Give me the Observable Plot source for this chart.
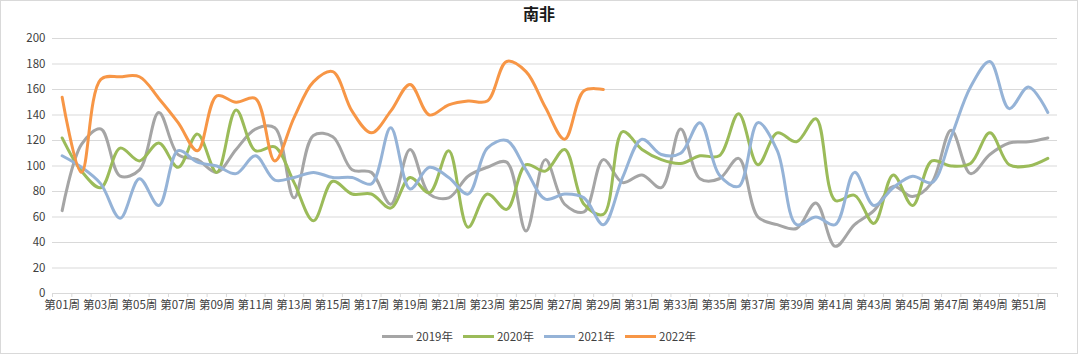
<!DOCTYPE html>
<html>
<head>
<meta charset="utf-8">
<script src="https://cdn.jsdelivr.net/npm/d3@7"></script>
<script src="https://cdn.jsdelivr.net/npm/@observablehq/plot@0.6"></script>
<style>
  html, body { margin: 0; padding: 0; background: #fff; }
  #frame { position: relative; width: 1076px; height: 352px; border: 1px solid #d9d9d9; background: #fff; overflow: hidden; }
  #title { height: 29px; line-height: 38px; text-align: center; font: bold 16px "Noto Sans CJK SC", "Noto Sans", sans-serif; color: #1a1a1a; }
  #chart svg { display: block; }
  #legend { display: flex; justify-content: center; align-items: center; gap: 0; height: 34px; margin-top: -2px; font: 11.5px "Noto Sans CJK SC", "Noto Sans", sans-serif; color: #404040; padding-left: 0px; }
  .item { display: flex; align-items: center; margin: 0 5px; }
  .sw { width: 31px; height: 3px; margin-right: 3px; }
</style>
</head>
<body>
<div id="frame">
  <div id="title">南非</div>
  <div id="chart"></div>
  <div id="legend"></div>
</div>
<script>
const weeks = d3.range(1, 53);
const weekLabels = weeks.map(w => "第" + String(w).padStart(2, "0") + "周");
const years = ["2019年", "2020年", "2021年", "2022年"];
const colors = ["#A5A5A5", "#9BBB59", "#95B3D7", "#F79646"];
const yTicks = [0, 20, 40, 60, 80, 100, 120, 140, 160, 180, 200];

const s2019 = [65, 117, 129, 92, 97, 142, 109, 105, 95, 113, 129, 130, 75, 124, 123, 97, 95, 70, 113, 78, 75, 92, 99, 103, 49, 105, 70, 64, 105, 87, 93, 83, 129, 90, 90, 106, 60, 54, 51, 71, 37, 54, 65, 84, 76, 87, 128, 94, 109, 118, 119, 122];
const s2020 = [122, 96, 83, 114, 104, 118, 99, 125, 95, 144, 112, 115, 87, 57, 88, 78, 78, 67, 91, 79, 112, 52, 78, 66, 101, 96, 113, 70, 62, 127, 113, 105, 102, 108, 108, 141, 101, 126, 119, 137, 73, 77, 55, 93, 69, 104, 100, 102, 126, 101, 100, 106];
const s2021 = [108, 99, 86, 59, 90, 69, 112, 103, 100, 94, 108, 89, 91, 95, 91, 91, 86, 130, 82, 99, 91, 78, 114, 120, 97, 74, 78, 75, 54, 91, 121, 109, 110, 134, 93, 84, 134, 112, 54, 60, 54, 95, 69, 83, 92, 87, 123, 162, 182, 145, 162, 142];
const s2022 = [154, 95, 168, 170, 170, 153, 134, 112, 155, 150, 153, 104, 138, 166, 174, 143, 126, 143, 164, 140, 148, 151, 151, 182, 174, 146, 121, 159, 160];

const series = [s2019, s2020, s2021, s2022];
const data = series.flatMap((vals, i) => vals.map((v, j) => ({ year: years[i], week: weeks[j], value: v })));
const boundaries = weeks.map(w => w - 0.5).concat([weeks[weeks.length - 1] + 0.5]);
const oddWeeks = weeks.filter(w => w % 2 === 1);

const chart = Plot.plot({
  width: 1076,
  height: 291,
  marginTop: 8,
  marginBottom: 28,
  marginLeft: 51,
  marginRight: 20,
  style: { fontFamily: '"Noto Sans CJK SC", "Noto Sans", sans-serif', background: "#fff" },
  x: { domain: [0.5, 52.5], axis: null, label: null },
  y: { domain: [0, 200], axis: null, label: null },
  color: { domain: years, range: colors },
  marks: [
    Plot.gridY(yTicks, { stroke: "#d9d9d9", strokeOpacity: 1, strokeWidth: 1 }),
    Plot.axisY(yTicks, { tickSize: 0, tickPadding: 7, fontSize: 11.5, fill: "#404040", label: null }),
    Plot.axisX(boundaries, { tickSize: 4, stroke: "#d9d9d9", strokeOpacity: 1, tickFormat: () => "", label: null }),
    Plot.axisX(oddWeeks, { tickSize: 0, tickPadding: 7, fontSize: 11.5, fill: "#404040", tickFormat: w => weekLabels[w - 1], label: null }),
    Plot.line(data, { x: "week", y: "value", z: "year", stroke: "year", curve: "catmull-rom", strokeWidth: 3, strokeLinecap: "round", strokeLinejoin: "round" })
  ]
});
document.getElementById("chart").appendChild(chart);

const legend = document.getElementById("legend");
years.forEach((y, i) => {
  const item = document.createElement("div");
  item.className = "item";
  const sw = document.createElement("span");
  sw.className = "sw";
  sw.style.background = colors[i];
  const lb = document.createElement("span");
  lb.textContent = y;
  item.appendChild(sw);
  item.appendChild(lb);
  legend.appendChild(item);
});
</script>
</body>
</html>
